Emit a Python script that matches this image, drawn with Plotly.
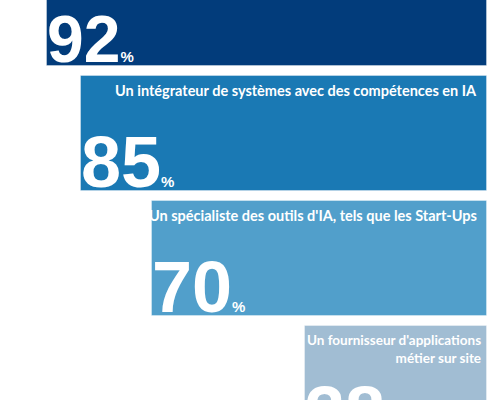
import plotly.graph_objects as go

# ---- data ----
categories = [
    "",
    "Un intégrateur de systèmes avec des compétences en IA",
    "Un spécialiste des outils d'IA, tels que les Start-Ups",
    "Un fournisseur d'applications<br>métier sur site",
]
values = [92, 85, 70, 38]
colors = ["#023C7B", "#1A79B4", "#519FCB", "#A1BDD3"]

positions = list(range(len(values)))

fig = go.Figure()
fig.add_trace(go.Bar(
    x=values,
    y=positions,
    orientation="h",
    width=0.92,
    marker=dict(color=colors, line=dict(color="rgba(255,255,255,0.35)", width=1)),
    hoverinfo="skip",
))

annotations = []
for i, (lab, v) in enumerate(zip(categories, values)):
    if lab:
        multi = "<br>" in lab
        annotations.append(dict(
            x=0, y=i - 0.46, xref="x", yref="y",
            xanchor="right", yanchor="top", align="right",
            text="<b>" + lab + "</b>",
            showarrow=False, xshift=-4 if multi else -8, yshift=-4,
            font=dict(family="Lato", size=13.5 if multi else 14.5, color="white"),
        ))
    big = 66 if i == 0 else 72
    # anchored at the bar centre (always inside the axis range), shifted to the bar bottom
    annotations.append(dict(
        x=v, y=i, xref="x", yref="y",
        xanchor="left", yanchor="bottom", align="left",
        text="<b>%d</b><span style='font-size:15px'><b>%%</b></span>" % v,
        showarrow=False, xshift=-2, yshift=-69.5 if i == 0 else -70.5,
        font=dict(family="Liberation Sans", size=big, color="white"),
    ))

fig.update_layout(
    width=495, height=400,
    margin=dict(l=0, r=0, t=0, b=0),
    paper_bgcolor="white", plot_bgcolor="white",
    showlegend=False,
    bargap=0,
    xaxis=dict(range=[101.85, -1.67], visible=False, fixedrange=True),
    yaxis=dict(range=[3.136, -0.064], visible=False, fixedrange=True),
    annotations=annotations,
)

fig.write_html("out.html", config={"displayModeBar": False})
